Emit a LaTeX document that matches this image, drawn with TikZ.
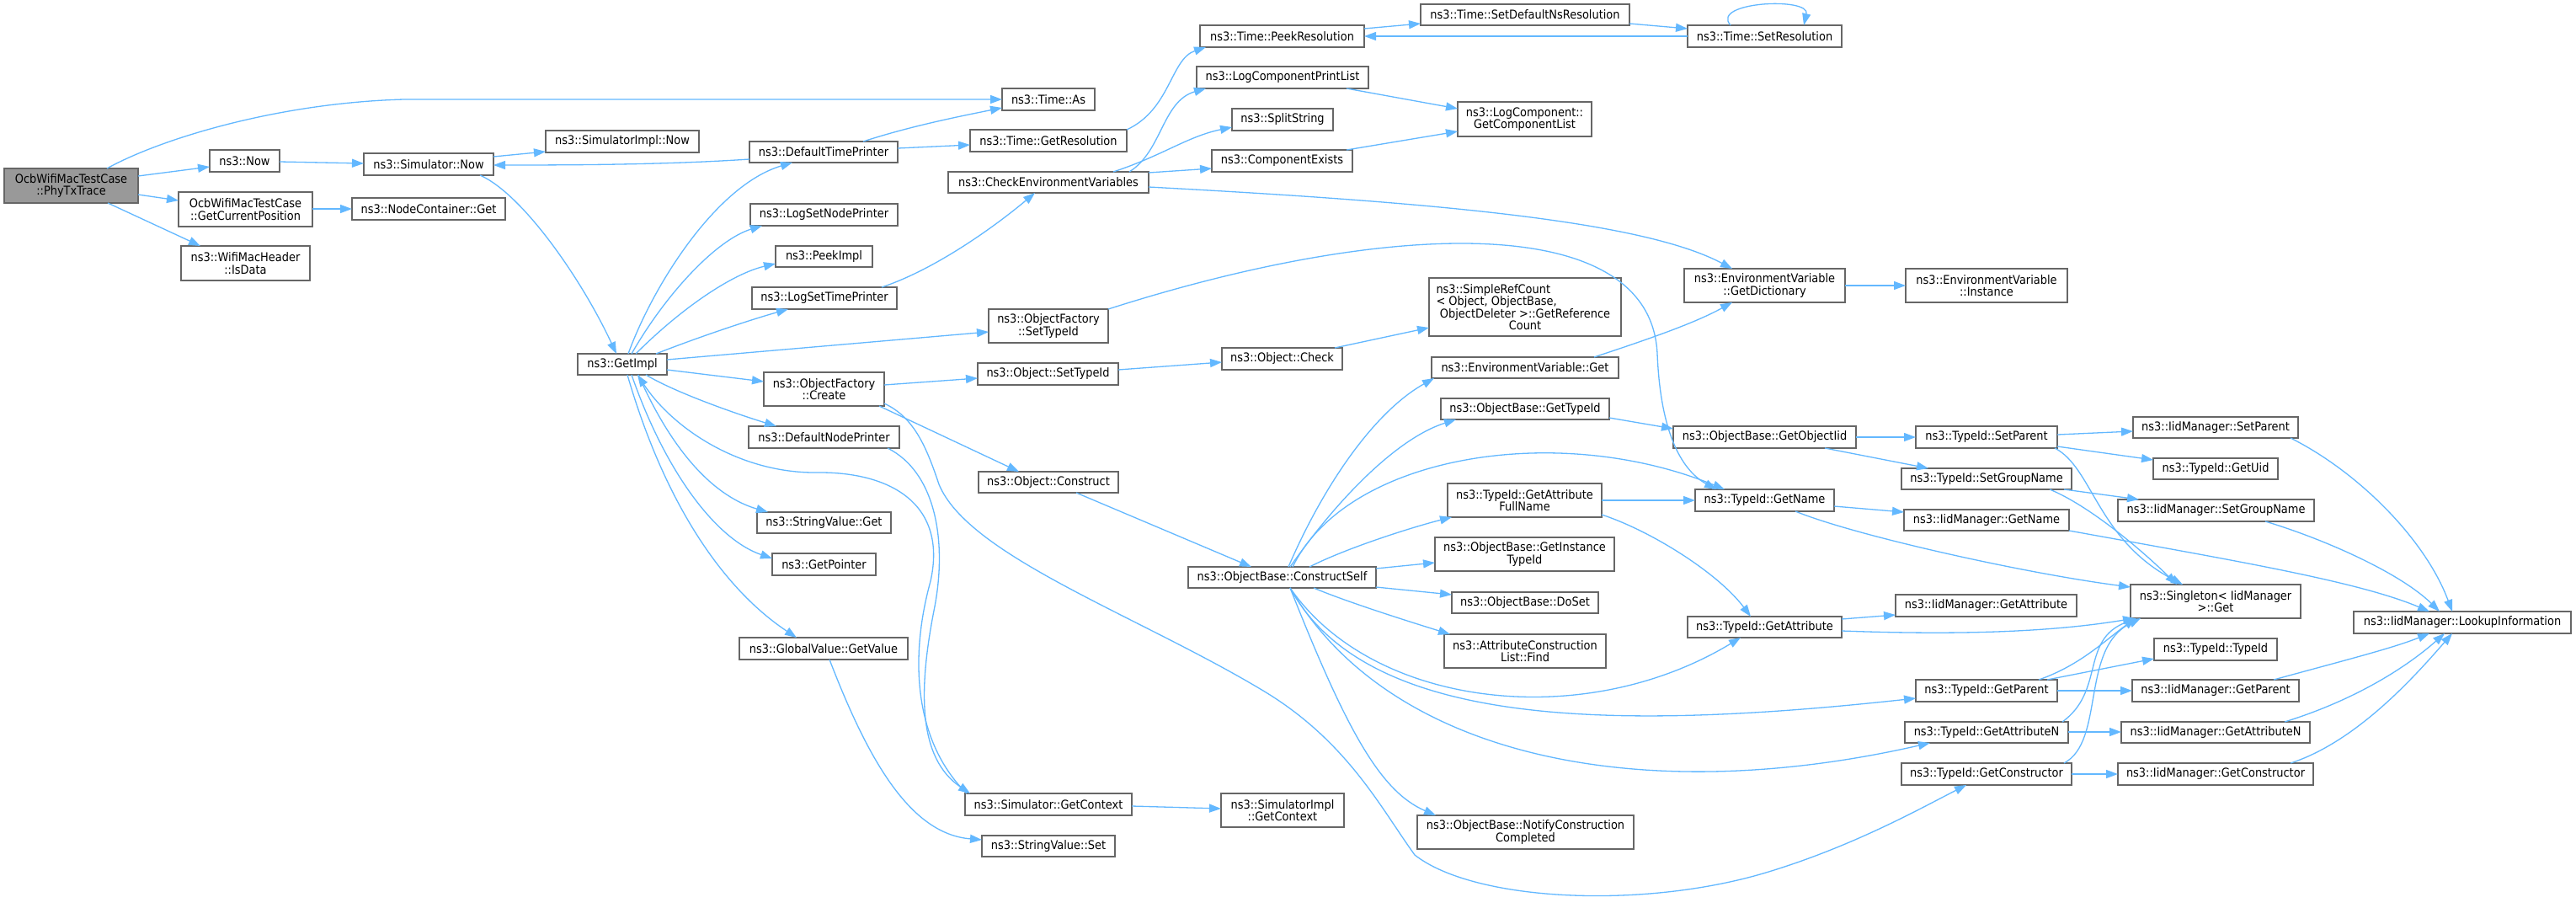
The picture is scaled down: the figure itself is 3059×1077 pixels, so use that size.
\documentclass[tikz,border=0pt]{standalone}
\usepackage{fontspec}
\setmainfont{DejaVu Sans}[FakeStretch=0.9]
\usetikzlibrary{arrows.meta}
\definecolor{edgec}{HTML}{63B8FF}
\definecolor{boxc}{HTML}{666666}
\definecolor{rootc}{HTML}{999999}
\tikzset{
 box/.style={draw=boxc, line width=1.7pt, fill=white, inner sep=0pt, outer sep=0pt, align=center, font=\fontsize{14.4pt}{14.4pt}\selectfont, anchor=center},
 rootbox/.style={fill=rootc},
 e/.style={draw=edgec, line width=1.3pt, -{Triangle[length=14pt,width=10pt]}},
}
\newcommand\nd[7][]{\node[box,#1,minimum width={(#5-#3)*1pt},minimum height={(#6-#4)*1pt}] (#2) at ({(#3+#5)/2},{(#4+#6)/2}) {#7};}
\begin{document}
\begin{tikzpicture}[x=1pt,y=-1pt]
\fill[white] (0,0) rectangle (3059,1077);
\useasboundingbox (0,0) rectangle (3059,1077);
% nodes
\nd[rootbox]{phy}{5}{200}{164}{241}{OcbWifiMacTestCase\\::PhyTxTrace}
\nd{now}{249}{178}{332}{204}{ns3::Now}
\nd{gcp}{212}{228}{371}{269}{OcbWifiMacTestCase\\::GetCurrentPosition}
\nd{isdata}{215}{292}{368}{333}{ns3::WifiMacHeader\\::IsData}
\nd{simnow}{432}{182}{586}{208}{ns3::Simulator::Now}
\nd{ncget}{418}{235}{600}{261}{ns3::NodeContainer::Get}
\nd{simimplnow}{648}{155}{830}{181}{ns3::SimulatorImpl::Now}
\nd{getimpl}{686}{420}{792}{445}{ns3::GetImpl}
\nd{timeas}{1190}{105}{1300}{131}{ns3::Time::As}
\nd{dtp}{890}{168}{1066}{193}{ns3::DefaultTimePrinter}
\nd{getres}{1152}{154}{1338}{180}{ns3::Time::GetResolution}
\nd{cev}{1126}{204}{1364}{229}{ns3::CheckEnvironmentVariables}
\nd{lsnp}{891}{242}{1066}{268}{ns3::LogSetNodePrinter}
\nd{peekimpl}{921}{292}{1036}{317}{ns3::PeekImpl}
\nd{lstp}{893}{341}{1065}{367}{ns3::LogSetTimePrinter}
\nd{ofst}{1174}{367}{1316}{407}{ns3::ObjectFactory\\::SetTypeId}
\nd{ofc}{907}{442}{1050}{482}{ns3::ObjectFactory\\::Create}
\nd{objst}{1161}{431}{1328}{457}{ns3::Object::SetTypeId}
\nd{dnp}{889}{506}{1068}{532}{ns3::DefaultNodePrinter}
\nd{peekres}{1425}{30}{1620}{56}{ns3::Time::PeekResolution}
\nd{lcpl}{1421}{79}{1625}{105}{ns3::LogComponentPrintList}
\nd{split}{1463}{129}{1583}{155}{ns3::SplitString}
\nd{cexists}{1439}{178}{1606}{204}{ns3::ComponentExists}
\nd{objcheck}{1451}{413}{1594}{439}{ns3::Object::Check}
\nd{objconstruct}{1162}{560}{1328}{585}{ns3::Object::Construct}
\nd{svget}{899}{608}{1058}{633}{ns3::StringValue::Get}
\nd{getptr}{917}{657}{1040}{683}{ns3::GetPointer}
\nd{gvgv}{878}{757}{1078}{783}{ns3::GlobalValue::GetValue}
\nd{simctx}{1146}{942}{1344}{968}{ns3::Simulator::GetContext}
\nd{svset}{1166}{992}{1324}{1017}{ns3::StringValue::Set}
\nd{simimplctx}{1450}{942}{1596}{982}{ns3::SimulatorImpl\\::GetContext}
\nd{cself}{1411}{673}{1634}{698}{ns3::ObjectBase::ConstructSelf}
\nd{setdef}{1687}{5}{1935}{30}{ns3::Time::SetDefaultNsResolution}
\nd{setres}{2004}{30}{2187}{56}{ns3::Time::SetResolution}
\nd{gcl}{1731}{121}{1890}{162}{ns3::LogComponent::\\GetComponentList}
\nd{getdict}{2000}{319}{2191}{359}{ns3::EnvironmentVariable\\::GetDictionary}
\nd{inst}{2263}{319}{2455}{359}{ns3::EnvironmentVariable\\::Instance}
\nd{src}{1697}{330}{1925}{399}{\makebox[211pt][l]{ns3::SimpleRefCount}\\\makebox[211pt][l]{< Object, ObjectBase,}\\ObjectDeleter >::GetReference\\Count}
\nd{envget}{1700}{424}{1922}{449}{ns3::EnvironmentVariable::Get}
\nd{obgti}{1711}{473}{1911}{498}{ns3::ObjectBase::GetTypeId}
\nd{goi}{1987}{506}{2204}{532}{ns3::ObjectBase::GetObjectIid}
\nd{tsp}{2275}{506}{2443}{532}{ns3::TypeId::SetParent}
\nd{isp}{2533}{495}{2729}{520}{ns3::IidManager::SetParent}
\nd{gafn}{1719}{574}{1902}{614}{ns3::TypeId::GetAttribute\\FullName}
\nd{tgn}{2013}{581}{2178}{607}{ns3::TypeId::GetName}
\nd{giti}{1704}{638}{1917}{678}{ns3::ObjectBase::GetInstance\\TypeId}
\nd{doset}{1724}{703}{1898}{728}{ns3::ObjectBase::DoSet}
\nd{acl}{1715}{753}{1907}{793}{ns3::AttributeConstruction\\List::Find}
\nd{tga}{2004}{732}{2187}{757}{ns3::TypeId::GetAttribute}
\nd{ncc}{1683}{968}{1940}{1008}{ns3::ObjectBase::NotifyConstruction\\Completed}
\nd{tsgn}{2258}{556}{2460}{581}{ns3::TypeId::SetGroupName}
\nd{tuid}{2557}{544}{2705}{569}{ns3::TypeId::GetUid}
\nd{isgn}{2515}{593}{2748}{619}{ns3::IidManager::SetGroupName}
\nd{ign}{2261}{605}{2457}{630}{ns3::IidManager::GetName}
\nd{sing}{2530}{694}{2732}{734}{ns3::Singleton< IidManager\\>::Get}
\nd{iga}{2251}{706}{2466}{732}{ns3::IidManager::GetAttribute}
\nd{lookup}{2795}{726}{3053}{752}{ns3::IidManager::LookupInformation}
\nd{ttid}{2558}{758}{2704}{784}{ns3::TypeId::TypeId}
\nd{tgp}{2275}{807}{2443}{833}{ns3::TypeId::GetParent}
\nd{igp}{2532}{807}{2730}{833}{ns3::IidManager::GetParent}
\nd{tgan}{2262}{857}{2456}{882}{ns3::TypeId::GetAttributeN}
\nd{igan}{2519}{857}{2743}{882}{ns3::IidManager::GetAttributeN}
\nd{tgc}{2258}{906}{2460}{932}{ns3::TypeId::GetConstructor}
\nd{igc}{2515}{906}{2747}{932}{ns3::IidManager::GetConstructor}
% edges
\draw[e] (phy.north -| 127,0) .. controls (190,165) and (330,122) .. (480,118) -- (timeas.west |- 0,118);
\draw[e] (phy.east |- 0,209) -- (now.west |- 0,198);
\draw[e] (phy.east |- 0,231) -- (gcp.west |- 0,238);
\draw[e] (phy.south -| 128,0) -- (isdata.north -| 238,0);
\draw[e] (now.east |- 0,192) -- (simnow.west |- 0,194);
\draw[e] (gcp.east |- 0,248) -- (ncget.west |- 0,248);
\draw[e] (simnow.east |- 0,186) -- (simimplnow.west |- 0,180);
\draw[e] (dtp.west |- 0,189) .. controls (800,195) and (700,196) .. (simnow.east |- 0,196);
\draw[e] (simnow.south -| 570,0) .. controls (620,230) and (690,330) .. (getimpl.north -| 732,0);
\draw[e] (getimpl.north -| 746,0) .. controls (775,340) and (850,220) .. (dtp.south -| 941,0);
\draw[e] (getimpl.north -| 750,0) .. controls (790,350) and (850,285) .. (lsnp.south -| 905,0);
\draw[e] (getimpl.north -| 755,0) .. controls (810,365) and (870,325) .. (peekimpl.west |- 0,313);
\draw[e] (getimpl.north -| 779,0) .. controls (830,400) and (890,380) .. (lstp.south -| 936,0);
\draw[e] (getimpl.east |- 0,427) -- (ofst.west |- 0,394);
\draw[e] (getimpl.east |- 0,439) -- (ofc.west |- 0,453);
\draw[e] (getimpl.south -| 767,0) .. controls (800,465) and (870,490) .. (dnp.north -| 922,0);
\draw[e] (dtp.north -| 1025,0) .. controls (1080,150) and (1140,138) .. (timeas.west |- 0,128);
\draw[e] (dtp.east |- 0,176) -- (getres.west |- 0,172);
\draw[e] (getres.north east) .. controls (1390,130) and (1390,70) .. (peekres.south -| 1432,0);
\draw[e] (lstp.north -| 1047,0) .. controls (1110,320) and (1180,270) .. (cev.south -| 1229,0);
\draw[e] (cev.north -| 1341,0) .. controls (1380,180) and (1380,120) .. (lcpl.south -| 1432,0);
\draw[e] (cev.north -| 1322,0) .. controls (1380,185) and (1410,162) .. (split.west |- 0,151);
\draw[e] (cev.east |- 0,205) -- (cexists.west |- 0,200);
\draw[e] (cev.east |- 0,222) .. controls (1700,240) and (1950,262) .. (getdict.north -| 2057,0);
\draw[e] (ofst.north east) .. controls (1650,260) and (1960,250) .. (1968,420) .. controls (1972,520) and (2000,560) .. (tgn.north -| 2038,0);
\draw[e] (ofc.east |- 0,457) -- (objst.west |- 0,449);
\draw[e] (objst.east |- 0,439) -- (objcheck.west |- 0,430);
\draw[e] (ofc.south -| 1044,0) -- (objconstruct.north -| 1210,0);
\draw[e] (ofc.east |- 0,479) .. controls (1085,495) and (1100,530) .. (1115,575) .. controls (1150,660) and (1350,730) .. (1500,820) .. controls (1600,880) and (1640,960) .. (1680,1015) .. controls (1750,1070) and (1950,1080) .. (2097,1036) .. controls (2200,1005) and (2280,960) .. (tgc.south -| 2335,0);
\draw[e] (dnp.south -| 1054,0) .. controls (1110,560) and (1125,640) .. (1110,720) .. controls (1090,820) and (1090,900) .. (simctx.north -| 1152,0);
\draw[e] (simctx.north -| 1148,0) .. controls (1085,880) and (1080,780) .. (1105,690) .. controls (1125,600) and (1060,560) .. (970,561) .. controls (880,562) and (800,510) .. (getimpl.south -| 757,0);
\draw[e] (getimpl.south -| 758,0) .. controls (800,540) and (850,590) .. (svget.north -| 912,0);
\draw[e] (getimpl.south -| 750,0) .. controls (790,560) and (850,640) .. (getptr.west |- 0,663);
\draw[e] (getimpl.south -| 745,0) .. controls (790,600) and (860,700) .. (gvgv.north -| 946,0);
\draw[e] (gvgv.south -| 985,0) .. controls (1030,900) and (1080,990) .. (svset.west |- 0,997);
\draw[e] (simctx.east |- 0,957) -- (simimplctx.west |- 0,960);
\draw[e] (objconstruct.south -| 1278,0) -- (cself.north -| 1486,0);
\draw[e] (objcheck.north -| 1585,0) -- (src.west |- 0,389);
\draw[e] (lcpl.south -| 1599,0) -- (gcl.west |- 0,129);
\draw[e] (cexists.north -| 1599,0) -- (gcl.west |- 0,156);
\draw[e] (peekres.east |- 0,34) -- (setdef.west |- 0,28);
\draw[e] (setdef.east |- 0,28) -- (setres.west |- 0,34);
\draw[e] (setres.west |- 0,43) -- (peekres.east |- 0,43);
\draw[e] (setres.north -| 2055,0) .. controls (2030,2) and (2150,-4) .. (setres.north -| 2142,0);
\draw[e] (getdict.east |- 0,339) -- (inst.west |- 0,339);
\draw[e] (envget.north -| 1893,0) .. controls (1950,405) and (2010,385) .. (getdict.south -| 2057,0);
\draw[e] (obgti.east |- 0,496) -- (goi.west |- 0,509);
\draw[e] (goi.east |- 0,519) -- (tsp.west |- 0,519);
\draw[e] (goi.south -| 2167,0) -- (tsgn.north -| 2290,0);
\draw[e] (tsp.east |- 0,516) -- (isp.west |- 0,512);
\draw[e] (tsp.east |- 0,530) -- (tuid.west |- 0,546);
\draw[e] (tsp.south -| 2440,0) .. controls (2485,555) and (2490,640) .. (sing.north -| 2592,0);
\draw[e] (tsgn.south -| 2451,0) -- (isgn.north -| 2540,0);
\draw[e] (tsgn.south -| 2434,0) .. controls (2480,600) and (2540,650) .. (sing.north -| 2585,0);
\draw[e] (isp.south -| 2720,0) .. controls (2800,560) and (2880,640) .. (lookup.north -| 2912,0);
\draw[e] (isgn.south -| 2690,0) .. controls (2760,640) and (2850,680) .. (lookup.north -| 2897,0);
\draw[e] (ign.south east) .. controls (2650,665) and (2800,690) .. (lookup.north -| 2885,0);
\draw[e] (tgn.east |- 0,601) -- (ign.west |- 0,608);
\draw[e] (tgn.south -| 2132,0) .. controls (2200,635) and (2400,680) .. (sing.west |- 0,697);
\draw[e] (tga.east |- 0,735) -- (iga.west |- 0,730);
\draw[e] (tga.east |- 0,749) .. controls (2350,755) and (2450,748) .. (sing.south -| 2535,0);
\draw[e] (tgp.north -| 2421,0) .. controls (2470,790) and (2500,760) .. (sing.south -| 2536,0);
\draw[e] (tgp.north -| 2431,0) -- (ttid.west |- 0,782);
\draw[e] (tgp.east |- 0,820) -- (igp.west |- 0,820);
\draw[e] (igp.north -| 2700,0) .. controls (2780,785) and (2840,770) .. (lookup.south -| 2885,0);
\draw[e] (tgan.north -| 2449,0) .. controls (2500,820) and (2470,760) .. (sing.south -| 2537,0);
\draw[e] (tgan.east |- 0,869) -- (igan.west |- 0,869);
\draw[e] (igan.north -| 2713,0) .. controls (2800,830) and (2860,790) .. (lookup.south -| 2903,0);
\draw[e] (tgc.north -| 2451,0) .. controls (2500,880) and (2470,770) .. (sing.south -| 2542,0);
\draw[e] (tgc.east |- 0,919) -- (igc.west |- 0,919);
\draw[e] (igc.north -| 2720,0) .. controls (2800,880) and (2870,800) .. (lookup.south -| 2912,0);
\draw[e] (cself.north -| 1530,0) .. controls (1570,580) and (1630,490) .. (envget.south -| 1703,0);
\draw[e] (cself.north -| 1532,0) .. controls (1590,590) and (1660,520) .. (obgti.south -| 1729,0);
\draw[e] (cself.north -| 1535,0) .. controls (1600,540) and (1850,500) .. (tgn.north -| 2048,0);
\draw[e] (cself.north -| 1555,0) .. controls (1600,650) and (1680,625) .. (gafn.south -| 1724,0);
\draw[e] (cself.east |- 0,675) -- (giti.west |- 0,668);
\draw[e] (cself.east |- 0,697) -- (doset.west |- 0,706);
\draw[e] (cself.south -| 1560,0) .. controls (1600,715) and (1680,740) .. (acl.north -| 1722,0);
\draw[e] (cself.south -| 1532,0) .. controls (1630,840) and (1880,870) .. (tga.south -| 2067,0);
\draw[e] (cself.south -| 1532,0) .. controls (1620,860) and (1900,870) .. (tgp.west |- 0,829);
\draw[e] (cself.south -| 1532,0) .. controls (1650,900) and (1950,960) .. (tgan.south -| 2292,0);
\draw[e] (cself.south -| 1532,0) .. controls (1600,870) and (1640,940) .. (ncc.north -| 1705,0);
\draw[e] (gafn.east |- 0,594) -- (tgn.west |- 0,594);
\draw[e] (gafn.east |- 0,611) .. controls (1960,630) and (2040,680) .. (tga.north -| 2079,0);
\end{tikzpicture}
\end{document}
